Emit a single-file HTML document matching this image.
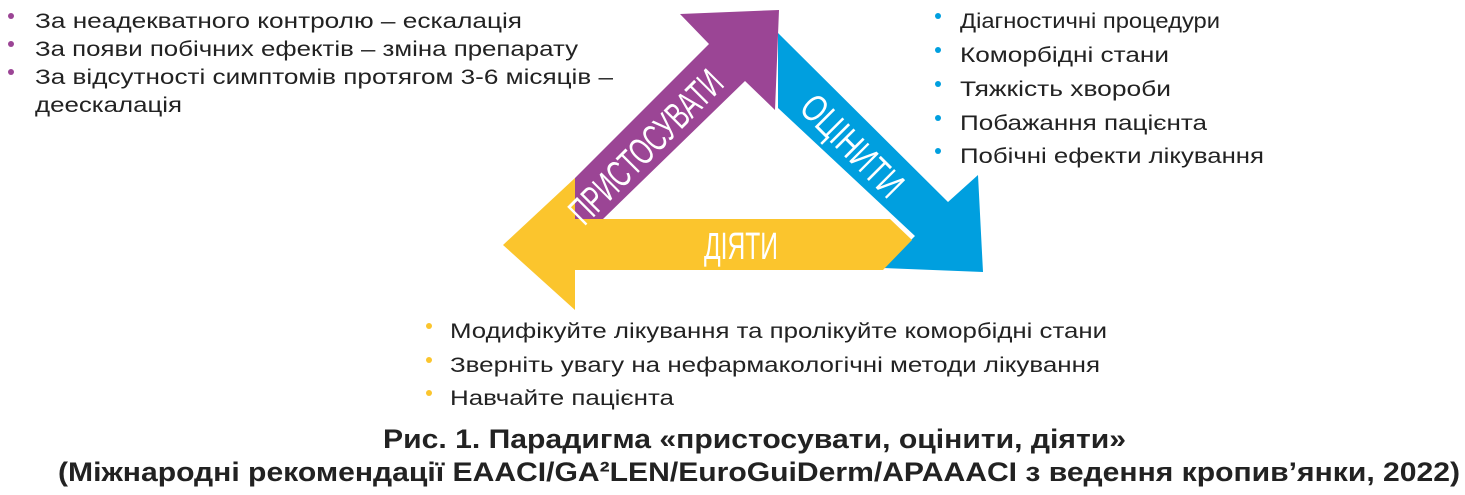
<!DOCTYPE html>
<html><head><meta charset="utf-8"><style>
html,body{margin:0;padding:0;background:#fff;}
svg{display:block;}
text{font-family:"Liberation Sans","DejaVu Sans",sans-serif;}
.t{font-size:21px;fill:#222;}
.c{font-size:27px;font-weight:bold;fill:#222;}
.w{fill:#fff;font-size:38px;}
</style></head><body>
<svg width="1465" height="495" viewBox="0 0 1465 495">
<polygon fill="#009fdf" points="778,33 948,202 978,175 983,272 883,268 915,236 778,108"/>
<polygon fill="#fbc52d" points="503,245 575,178 575,219 890,219 912,240 883,270 575,270 575,310"/>
<polygon fill="#9b4595" points="575,219 603,219 745,81 775,110 779,10 680,14 709,44 575,178"/>
<text class="w" x="0" y="0" text-anchor="middle" textLength="200" lengthAdjust="spacingAndGlyphs" transform="translate(655,156) rotate(-45)">ПРИСТОСУВАТИ</text>
<text class="w" x="0" y="0" text-anchor="middle" textLength="128" lengthAdjust="spacingAndGlyphs" transform="translate(843,155) rotate(45)">ОЦІНИТИ</text>
<text class="w" x="741" y="259" text-anchor="middle" textLength="74" lengthAdjust="spacingAndGlyphs">ДІЯТИ</text>

<g fill="#9b4595"><circle cx="11" cy="16" r="3"/><circle cx="11" cy="44" r="3"/><circle cx="11" cy="72" r="3"/></g>
<text class="t" x="35" y="28" textLength="487" lengthAdjust="spacingAndGlyphs">За неадекватного контролю – ескалація</text>
<text class="t" x="35" y="56" textLength="543" lengthAdjust="spacingAndGlyphs">За появи побічних ефектів – зміна препарату</text>
<text class="t" x="35" y="84" textLength="578" lengthAdjust="spacingAndGlyphs">За відсутності симптомів протягом 3-6 місяців –</text>
<text class="t" x="35" y="112" textLength="147" lengthAdjust="spacingAndGlyphs">деескалація</text>

<g fill="#009fdf"><circle cx="938" cy="16" r="3"/><circle cx="938" cy="50" r="3"/><circle cx="938" cy="84" r="3"/><circle cx="938" cy="118" r="3"/><circle cx="938" cy="151" r="3"/></g>
<text class="t" x="960" y="28" textLength="260" lengthAdjust="spacingAndGlyphs">Діагностичні процедури</text>
<text class="t" x="960" y="62" textLength="209" lengthAdjust="spacingAndGlyphs">Коморбідні стани</text>
<text class="t" x="960" y="96" textLength="211" lengthAdjust="spacingAndGlyphs">Тяжкість хвороби</text>
<text class="t" x="960" y="130" textLength="247" lengthAdjust="spacingAndGlyphs">Побажання пацієнта</text>
<text class="t" x="960" y="163" textLength="304" lengthAdjust="spacingAndGlyphs">Побічні ефекти лікування</text>

<g fill="#fbc52d"><circle cx="429" cy="326" r="3"/><circle cx="429" cy="360" r="3"/><circle cx="429" cy="393" r="3"/></g>
<text class="t" x="450" y="338" textLength="657" lengthAdjust="spacingAndGlyphs">Модифікуйте лікування та пролікуйте коморбідні стани</text>
<text class="t" x="450" y="372" textLength="650" lengthAdjust="spacingAndGlyphs">Зверніть увагу на нефармакологічні методи лікування</text>
<text class="t" x="450" y="405" textLength="224" lengthAdjust="spacingAndGlyphs">Навчайте пацієнта</text>

<text class="c" x="383" y="448" textLength="743" lengthAdjust="spacingAndGlyphs">Рис. 1. Парадигма «пристосувати, оцінити, діяти»</text>
<text class="c" x="58" y="481" textLength="1402" lengthAdjust="spacingAndGlyphs">(Міжнародні рекомендації EAACI/GA²LEN/EuroGuiDerm/APAAACI з ведення кропив’янки, 2022)</text>
</svg>
</body></html>
